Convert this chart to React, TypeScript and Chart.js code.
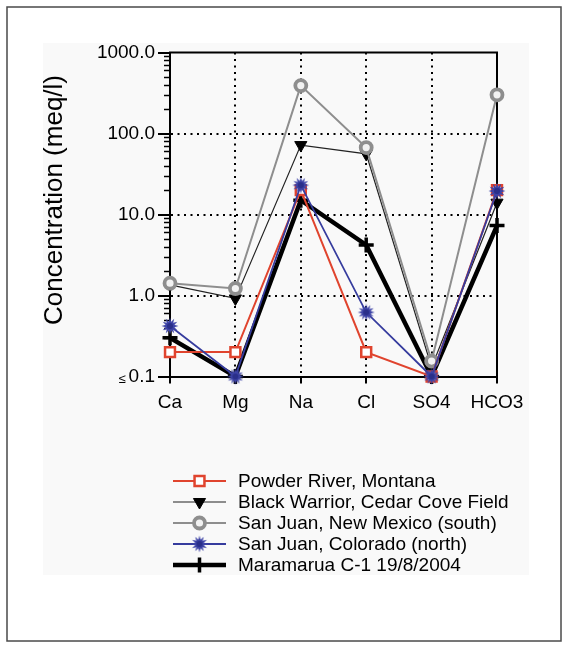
import React, { useEffect, useRef } from 'react';
import { Chart, registerables } from 'chart.js';
import { drawPoint } from 'chart.js/helpers';

Chart.register(...registerables);

const W = 568;
const H = 648;
const FONT = '"Liberation Sans", Arial, Helvetica, sans-serif';

const categories = ['Ca', 'Mg', 'Na', 'Cl', 'SO4', 'HCO3'];
const powderRiver = [0.2, 0.2, 20, 0.2, 0.1, 20];
const blackWarrior = [1.35, 0.92, 72, 56, 0.13, 14];
const sanJuanNM = [1.42, 1.22, 390, 67, 0.155, 300];
const sanJuanCO = [0.42, 0.1, 23, 0.62, 0.1, 19.5];
const maramarua = [0.3, 0.1, 15, 4.2, 0.1, 7.3];

const seriesNames = [
  'Powder River, Montana',
  'Black Warrior, Cedar Cove Field',
  'San Juan, New Mexico (south)',
  'San Juan, Colorado (north)',
  'Maramarua C-1 19/8/2004',
];

const yTickValues = [0.1, 1, 10, 100, 1000];
const yTickLabels = ['0.1', '1.0', '10.0', '100.0', '1000.0'];
const yTitle = 'Concentration (meq/l)';

function makeStar(color: string): HTMLCanvasElement {
  const c = document.createElement('canvas');
  c.width = 18;
  c.height = 18;
  const g = c.getContext('2d')!;
  const cx = 9, cy = 9, spikes = 12, ro = 8.5, ri = 4.5;
  g.beginPath();
  for (let i = 0; i < spikes * 2; i++) {
    const r = i % 2 === 0 ? ro : ri;
    const a = (Math.PI * i) / spikes - Math.PI / 2;
    const x = cx + Math.cos(a) * r;
    const y = cy + Math.sin(a) * r;
    if (i === 0) g.moveTo(x, y); else g.lineTo(x, y);
  }
  g.closePath();
  g.fillStyle = color;
  g.fill();
  g.beginPath();
  g.arc(cx, cy, 3, 0, Math.PI * 2);
  g.fillStyle = '#2a2f8a';
  g.fill();
  return c;
}

export default function App() {
  const ref = useRef<HTMLCanvasElement>(null);

  useEffect(() => {
    const canvas = ref.current!;
    const star = makeStar('#3d43a6');
    const RED = '#e0442e';
    const BLUE = '#363c9e';
    const GREY = '#8e8e8e';

    const datasets: any[] = [
      {
        label: seriesNames[0], data: powderRiver, borderColor: RED, backgroundColor: '#ffffff',
        borderWidth: 2, pointStyle: 'rect', pointRadius: 7, pointBorderWidth: 2.5,
        pointBorderColor: RED, pointBackgroundColor: '#ffffff', order: 1,
      },
      {
        label: seriesNames[1], data: blackWarrior, borderColor: '#222222', backgroundColor: '#000000',
        borderWidth: 1.2, pointStyle: 'triangle', pointRotation: 180, pointRadius: 7, pointBorderWidth: 1,
        pointBorderColor: '#000000', pointBackgroundColor: '#000000', order: 3,
      },
      {
        label: seriesNames[2], data: sanJuanNM, borderColor: GREY, backgroundColor: '#f2f2f2',
        borderWidth: 2, pointStyle: 'circle', pointRadius: 5.5, pointBorderWidth: 3.8,
        pointBorderColor: GREY, pointBackgroundColor: '#f2f2f2', order: 2,
      },
      {
        label: seriesNames[3], data: sanJuanCO, borderColor: BLUE, backgroundColor: BLUE,
        borderWidth: 1.8, pointStyle: star, pointRadius: 8, pointBorderWidth: 0,
        pointBorderColor: BLUE, pointBackgroundColor: BLUE, order: 0,
      },
      {
        label: seriesNames[4], data: maramarua, borderColor: '#000000', backgroundColor: '#000000',
        borderWidth: 4.5, pointStyle: 'cross', pointRadius: 7.5, pointBorderWidth: 3.5,
        pointBorderColor: '#000000', pointBackgroundColor: '#000000', order: 4,
      },
    ];
    datasets.forEach((d) => { d.clip = false; d.tension = 0; d.fill = false; d.pointHoverRadius = d.pointRadius; });

    const decor = {
      id: 'decor',
      beforeDraw(chart: any) {
        const ctx = chart.ctx;
        ctx.save();
        ctx.fillStyle = '#ffffff';
        ctx.fillRect(0, 0, W, H);
        ctx.fillStyle = '#f9f9f9';
        ctx.fillRect(43, 43, 486, 532);
        ctx.strokeStyle = '#4a4a4a';
        ctx.lineWidth = 1.5;
        ctx.strokeRect(7, 7, 554, 634);
        ctx.restore();
      },
      beforeDatasetsDraw(chart: any) {
        const { ctx, chartArea } = chart;
        const { left, right, top, bottom } = chartArea;
        const y = chart.scales.y;
        ctx.save();
        ctx.strokeStyle = '#000';
        ctx.lineWidth = 2;
        ctx.beginPath();
        ctx.moveTo(left - 1, top);
        ctx.lineTo(right, top);
        ctx.lineTo(right, bottom);
        ctx.stroke();
        // minor ticks
        ctx.lineWidth = 1.5;
        for (let d = 0; d < yTickValues.length - 1; d++) {
          for (let m = 2; m <= 9; m++) {
            const py = Math.round(y.getPixelForValue(yTickValues[d] * m)) + 0.5;
            ctx.beginPath();
            ctx.moveTo(left - 6, py);
            ctx.lineTo(left, py);
            ctx.stroke();
          }
        }
        // "≤" before 0.1
        ctx.fillStyle = '#000';
        ctx.font = '13px ' + FONT;
        ctx.textAlign = 'center';
        ctx.textBaseline = 'middle';
        ctx.fillText('\u2264', 122, y.getPixelForValue(0.1) + 3);
        // y title
        ctx.translate(55, 200);
        ctx.rotate(-Math.PI / 2);
        ctx.font = '26px ' + FONT;
        ctx.fillText(yTitle, 0, 0);
        ctx.restore();
      },
      afterDraw(chart: any) {
        const ctx = chart.ctx;
        const x0 = 173, x1 = 226, xm = (x0 + x1) / 2, tx = 238;
        const startY = 481, gap = 21;
        chart.data.datasets.forEach((ds: any, i: number) => {
          const yy = startY + i * gap;
          ctx.save();
          ctx.strokeStyle = ds.borderColor;
          ctx.lineWidth = ds.borderWidth;
          ctx.beginPath();
          ctx.moveTo(x0, yy);
          ctx.lineTo(x1, yy);
          ctx.stroke();
          ctx.fillStyle = ds.pointBackgroundColor;
          ctx.strokeStyle = ds.pointBorderColor;
          ctx.lineWidth = ds.pointBorderWidth;
          drawPoint(ctx, {
            pointStyle: ds.pointStyle,
            rotation: ds.pointRotation || 0,
            radius: ds.pointRadius,
            borderWidth: ds.pointBorderWidth,
          } as any, xm, yy);
          ctx.fillStyle = '#000';
          ctx.font = '19px ' + FONT;
          ctx.textAlign = 'left';
          ctx.textBaseline = 'middle';
          ctx.fillText(ds.label, tx, yy + 1);
          ctx.restore();
        });
      },
    };

    const chart = new Chart(canvas, {
      type: 'line',
      data: { labels: categories, datasets },
      options: {
        animation: false,
        responsive: false,
        devicePixelRatio: 1,
        events: [],
        layout: { padding: { left: 0, right: 71, top: 52.5, bottom: 231.5 } },
        plugins: { legend: { display: false }, tooltip: { enabled: false } },
        scales: {
          x: {
            type: 'category',
            offset: false,
            afterFit: (s: any) => { s.height = 40; },
            grid: {
              offset: false,
              color: (c: any) => (c.index === 0 || c.index === categories.length - 1 ? 'rgba(0,0,0,0)' : '#000'),
              lineWidth: 2,
              tickColor: '#000',
              tickWidth: 2,
              tickLength: 7,
              tickBorderDash: [],
            },
            border: { display: true, color: '#000', width: 2, dash: [2, 4.5] },
            ticks: {
              color: '#000',
              font: { family: FONT, size: 19 },
              padding: 8,
              maxRotation: 0,
              autoSkip: false,
            },
          },
          y: {
            type: 'logarithmic',
            min: 0.1,
            max: 1000,
            afterFit: (s: any) => { s.width = 170; },
            afterBuildTicks: (s: any) => { s.ticks = yTickValues.map((v) => ({ value: v, major: true })); },
            grid: {
              color: (c: any) => (c.tick && (c.tick.value === 0.1 || c.tick.value === 1000) ? 'rgba(0,0,0,0)' : '#000'),
              lineWidth: 2,
              tickColor: '#000',
              tickWidth: 2,
              tickLength: 12,
              tickBorderDash: [],
            },
            border: { display: true, color: '#000', width: 2, dash: [2, 4.5] },
            ticks: {
              color: '#000',
              font: { family: FONT, size: 19 },
              padding: 3,
              callback: (_v: any, i: number) => yTickLabels[i],
            },
          },
        },
      },
      plugins: [decor],
    } as any);

    return () => chart.destroy();
  }, []);

  return (
    <div style={{ position: 'absolute', left: 0, top: 0, width: W, height: H }}>
      <canvas ref={ref} width={W} height={H} style={{ width: W, height: H, display: 'block' }} />
    </div>
  );
}
